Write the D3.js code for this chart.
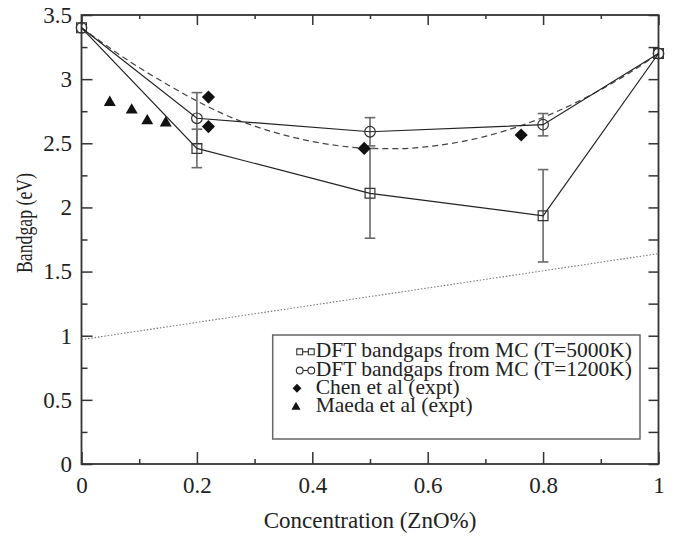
<!DOCTYPE html>
<html><head><meta charset="utf-8">
<script src="https://cdn.jsdelivr.net/npm/d3@7"></script>
<style>
body{margin:0;background:#fff}
svg{display:block}
</style>
</head><body>
<svg id="c" width="676" height="537"></svg>
<script>
// ---- data ----
const conc = [0, 0.2, 0.5, 0.8, 1];
const gap5000 = [3.40, 2.46, 2.11, 1.935, 3.20];
const err5000 = [0, 0.15, 0.35, 0.36, 0];
const gap1200 = [3.40, 2.695, 2.59, 2.645, 3.20];
const err1200 = [0, 0.20, 0.11, 0.087, 0];
const fitX = [0, 0.05, 0.1, 0.15, 0.2, 0.25, 0.3, 0.35, 0.4, 0.45, 0.5, 0.55, 0.6, 0.65, 0.7, 0.75, 0.8, 0.85, 0.9, 0.95, 1];
const fitY = [3.40, 3.24, 3.09, 2.955, 2.83, 2.72, 2.634, 2.566, 2.514, 2.478, 2.46, 2.458, 2.474, 2.506, 2.554, 2.62, 2.702, 2.802, 2.918, 3.05, 3.20];
const chenX = [0.22, 0.22, 0.49, 0.762];
const chenY = [2.86, 2.63, 2.46, 2.565];
const maedaX = [0.049, 0.087, 0.114, 0.146];
const maedaY = [2.83, 2.77, 2.687, 2.67];
const refX = [0, 1];
const refY = [0.97, 1.64];
const xMajor = [0, 0.2, 0.4, 0.6, 0.8, 1];
const xLabels = ["0", "0.2", "0.4", "0.6", "0.8", "1"];
const xMinor = [0.1, 0.3, 0.5, 0.7, 0.9];
const yMajor = [0, 0.5, 1, 1.5, 2, 2.5, 3, 3.5];
const yLabels = ["0", "0.5", "1", "1.5", "2", "2.5", "3", "3.5"];
const yMinor = [0.25, 0.75, 1.25, 1.75, 2.25, 2.75, 3.25];
const legendLabels = ["DFT bandgaps from MC (T=5000K)", "DFT bandgaps from MC (T=1200K)", "Chen et al (expt)", "Maeda et al (expt)"];
const xTitle = "Concentration (ZnO%)";
const yTitle = "Bandgap (eV)";

// ---- layout ----
const FONT = "'Liberation Serif'";
const L = 81.5, R = 658.5, T = 15, B = 464;
const svg = d3.select("#c");
const x = d3.scaleLinear().domain([0, 1]).range([L, R]);
const y = d3.scaleLinear().domain([0, 3.5]).range([B, T]);
const AX = "#333";

function serif(sel, size) {
  return sel.attr("font-family", "Liberation Serif").style("font-family", FONT)
    .attr("font-size", size).style("font-size", size + "px").attr("fill", "#222");
}
function styleAxis(g) {
  g.select(".domain").remove();
  g.attr("font-family", "Liberation Serif").attr("font-size", 23).attr("color", AX);
  g.selectAll(".tick line").attr("stroke", AX).attr("stroke-width", 1.5);
  serif(g.selectAll(".tick text"), 23);
}

// bottom
svg.append("g").attr("transform", `translate(0,${B})`)
  .call(d3.axisBottom(x).tickValues(xMajor).tickFormat((d, i) => xLabels[i]).tickSizeInner(-12).tickSizeOuter(0).tickPadding(13))
  .call(styleAxis);
svg.append("g").attr("transform", `translate(0,${B})`)
  .call(d3.axisBottom(x).tickValues(xMinor).tickFormat("").tickSizeInner(-5).tickSizeOuter(0))
  .call(styleAxis);
// top
svg.append("g").attr("transform", `translate(0,${T})`)
  .call(d3.axisTop(x).tickValues(xMajor).tickFormat("").tickSizeInner(-10).tickSizeOuter(0))
  .call(styleAxis);
svg.append("g").attr("transform", `translate(0,${T})`)
  .call(d3.axisTop(x).tickValues(xMinor).tickFormat("").tickSizeInner(-4).tickSizeOuter(0))
  .call(styleAxis);
// left
svg.append("g").attr("transform", `translate(${L},0)`)
  .call(d3.axisLeft(y).tickValues(yMajor).tickFormat((d, i) => yLabels[i]).tickSizeInner(-11).tickSizeOuter(0).tickPadding(9.5))
  .call(styleAxis);
svg.append("g").attr("transform", `translate(${L},0)`)
  .call(d3.axisLeft(y).tickValues(yMinor).tickFormat("").tickSizeInner(-6).tickSizeOuter(0))
  .call(styleAxis);
// right
svg.append("g").attr("transform", `translate(${R},0)`)
  .call(d3.axisRight(y).tickValues(yMajor.concat(yMinor)).tickFormat("").tickSizeInner(-10).tickSizeOuter(0))
  .call(styleAxis);

// frame
svg.append("rect").attr("x", L).attr("y", T).attr("width", R - L).attr("height", B - T)
  .attr("fill", "none").attr("stroke", AX).attr("stroke-width", 1.8);

// titles
serif(svg.append("text").attr("x", x(0.5)).attr("y", 528).attr("text-anchor", "middle"), 23).text(xTitle);
serif(svg.append("text").attr("transform", "translate(32,223) rotate(-90)").attr("text-anchor", "middle"), 23)
  .attr("textLength", 100).attr("lengthAdjust", "spacingAndGlyphs").text(yTitle);

// dotted reference line
const line = d3.line().x(d => x(d[0])).y(d => y(d[1]));
svg.append("path").datum(d3.zip(refX, refY)).attr("d", line)
  .attr("fill", "none").attr("stroke", "#777").attr("stroke-width", 1.1).attr("stroke-dasharray", "1.5,1.8");

// dashed fit
const curve = d3.line().x(d => x(d[0])).y(d => y(d[1])).curve(d3.curveMonotoneX);
svg.append("path").datum(d3.zip(fitX, fitY)).attr("d", curve)
  .attr("fill", "none").attr("stroke", "#444").attr("stroke-width", 1.2).attr("stroke-dasharray", "6,4");

// error bars
function errorBars(vals, errs) {
  const g = svg.append("g").attr("stroke", "#6a6a6a").attr("stroke-width", 1.6);
  conc.forEach((c, i) => {
    if (!errs[i]) return;
    const cx = x(c), y1 = y(vals[i] + errs[i]), y0 = y(vals[i] - errs[i]);
    g.append("line").attr("x1", cx).attr("x2", cx).attr("y1", y1).attr("y2", y0);
    g.append("line").attr("x1", cx - 5.3).attr("x2", cx + 5.3).attr("y1", y1).attr("y2", y1);
    g.append("line").attr("x1", cx - 5.3).attr("x2", cx + 5.3).attr("y1", y0).attr("y2", y0);
  });
}
errorBars(gap5000, err5000);
errorBars(gap1200, err1200);

// series lines
svg.append("path").datum(d3.zip(conc, gap5000)).attr("d", line)
  .attr("fill", "none").attr("stroke", "#222").attr("stroke-width", 1.2);
svg.append("path").datum(d3.zip(conc, gap1200)).attr("d", line)
  .attr("fill", "none").attr("stroke", "#222").attr("stroke-width", 1.2);

// markers
const sq = d3.symbol().type(d3.symbolSquare).size(96);
const ci = d3.symbol().type(d3.symbolCircle).size(88);
const di = d3.symbol().type(d3.symbolDiamond2).size(110);
const tr = d3.symbol().type(d3.symbolTriangle).size(62);
svg.append("g").selectAll("path").data(d3.zip(conc, gap5000)).join("path")
  .attr("transform", d => `translate(${x(d[0])},${y(d[1])})`).attr("d", sq)
  .attr("fill", "none").attr("stroke", "#333").attr("stroke-width", 1.2);
svg.append("g").selectAll("path").data(d3.zip(conc, gap1200)).join("path")
  .attr("transform", d => `translate(${x(d[0])},${y(d[1])})`).attr("d", ci)
  .attr("fill", "none").attr("stroke", "#333").attr("stroke-width", 1.2);
svg.append("g").selectAll("path").data(d3.zip(chenX, chenY)).join("path")
  .attr("transform", d => `translate(${x(d[0])},${y(d[1])})`).attr("d", di)
  .attr("fill", "#111");
svg.append("g").selectAll("path").data(d3.zip(maedaX, maedaY)).join("path")
  .attr("transform", d => `translate(${x(d[0])},${y(d[1]) + 1.5})`).attr("d", tr)
  .attr("fill", "#111");

// legend
const lg = svg.append("g");
lg.append("rect").attr("x", 272.7).attr("y", 335).attr("width", 367.3).attr("height", 104)
  .attr("fill", "#fff").attr("stroke", "#666").attr("stroke-width", 1.5);
const baselines = [357.3, 376, 394.2, 412];
legendLabels.forEach((t, i) => {
  serif(lg.append("text").attr("x", 315.7).attr("y", baselines[i]), 21.5).text(t);
});
const sqS = d3.symbol().type(d3.symbolSquare).size(34);
const ciS = d3.symbol().type(d3.symbolCircle).size(36);
[[sqS, 0], [ciS, 1]].forEach(([sym, i]) => {
  const cy = baselines[i] - 5.5;
  lg.append("line").attr("x1", 299.7).attr("x2", 311.3).attr("y1", cy).attr("y2", cy)
    .attr("stroke", "#222").attr("stroke-width", 1.1);
  [299.7, 311.3].forEach(cx => lg.append("path").attr("transform", `translate(${cx},${cy})`)
    .attr("d", sym).attr("fill", "#fff").attr("stroke", "#333").attr("stroke-width", 1.1));
});
lg.append("path").attr("transform", `translate(297,${baselines[2] - 6})`)
  .attr("d", d3.symbol().type(d3.symbolDiamond2).size(50)).attr("fill", "#111");
lg.append("path").attr("transform", `translate(296,${baselines[3] - 5})`)
  .attr("d", d3.symbol().type(d3.symbolTriangle).size(36)).attr("fill", "#111");
</script>
</body></html>
